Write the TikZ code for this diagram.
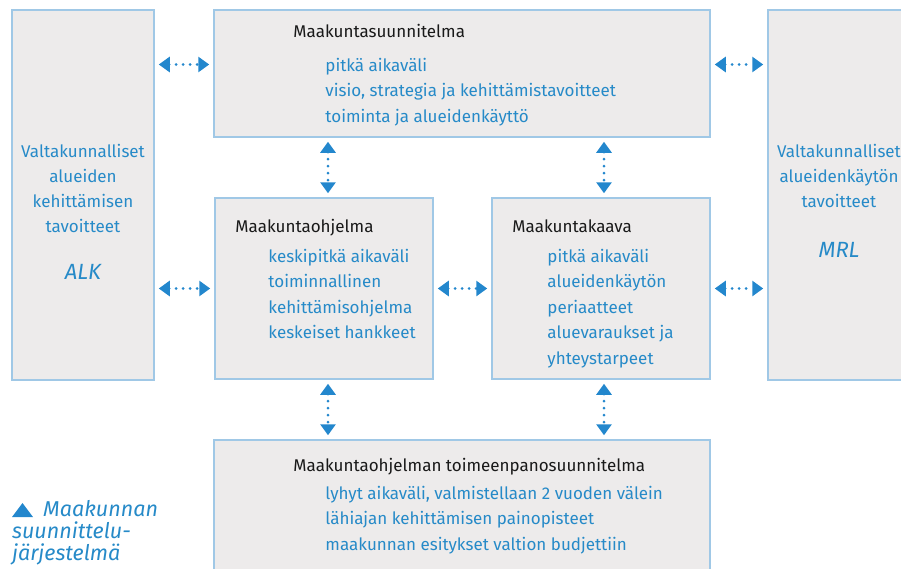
\documentclass[tikz,border=0pt]{standalone}
\usepackage{fontspec}
\setmainfont{Fira Sans}
\usepackage{tikz}
\usetikzlibrary{arrows.meta}
\usetikzlibrary{calc}
\usetikzlibrary{positioning}
\definecolor{boxfill}{RGB}{237,235,235}
\definecolor{boxline}{RGB}{160,200,230}
\definecolor{textblue}{RGB}{38,138,200}
\definecolor{linkblue}{RGB}{35,135,205}
\tikzstyle{panel} = [draw=boxline, line width=1.5pt, fill=boxfill, inner sep=0pt]
\tikzstyle{head} = [anchor=base west, inner sep=0pt, text=black!90, font=\fontsize{17}{25.5}\selectfont]
\tikzstyle{items} = [anchor=base west, inner sep=0pt, align=left, text=textblue, font=\fontsize{17}{25.5}\selectfont]
\tikzstyle{side} = [anchor=base, inner sep=0pt, align=center, text=textblue, font=\fontsize{17}{25}\selectfont]
\tikzstyle{abbr} = [anchor=base, inner sep=0pt, text=textblue, font=\itshape\fontsize{22}{24}\selectfont]
\tikzstyle{caption} = [anchor=base west, inner sep=0pt, align=left, text=textblue, font=\itshape\fontsize{21.5}{22}\selectfont]
\tikzstyle{link} = [linkblue, line width=3pt, line cap=round, dash pattern=on 0pt off 7pt, {Triangle[length=11pt,width=15pt]}-{Triangle[length=11pt,width=15pt]}, shorten <=4pt, shorten >=4pt]

\begin{document}
\begin{tikzpicture}[x=1pt,y=1pt]
\useasboundingbox (0,0) rectangle (901,-568);

\node[panel, minimum width=142pt, minimum height=370pt] (alk) at (83,-195) {};
\node[panel, minimum width=496pt, minimum height=127pt] (ms)  at (462,-73.5) {};
\node[panel, minimum width=142pt, minimum height=370pt] (mrl) at (839,-195) {};
\node[panel, minimum width=218pt, minimum height=181pt] (mo)  at (324,-288.5) {};
\node[panel, minimum width=218pt, minimum height=181pt] (mk)  at (601,-288.5) {};
\node[panel, minimum width=496pt, minimum height=132pt] (mt)  at (462,-506) {};

% box texts (lists sit on their last line)
\node[head]  (mshead) at ($(ms.north west)+(80,-28)$) {Maakuntasuunnitelma};
\node[items] (mslist) at ($(ms.north west)+(112,-113)$) {pitkä aikaväli\\visio, strategia ja kehittämistavoitteet\\toiminta ja alueidenkäyttö};
\node[head]  (mohead) at ($(mo.north west)+(21,-35)$) {Maakuntaohjelma};
\node[items] (molist) at ($(mo.north west)+(54,-141.5)$) {keskipitkä aikaväli\\toiminnallinen\\kehittämisohjelma\\keskeiset hankkeet};
\node[head]  (mkhead) at ($(mk.north west)+(21,-35)$) {Maakuntakaava};
\node[items] (mklist) at ($(mk.north west)+(56,-167)$) {pitkä aikaväli\\alueidenkäytön\\periaatteet\\aluevaraukset ja\\yhteystarpeet};
\node[head]  (mthead) at ($(mt.north west)+(80,-32)$) {Maakuntaohjelman toimeenpanosuunnitelma};
\node[items] (mtlist) at ($(mt.north west)+(112,-111)$) {lyhyt aikaväli, valmistellaan 2 vuoden välein\\lähiajan kehittämisen painopisteet\\maakunnan esitykset valtion budjettiin};

\node[side] (alktext) at ($(alk.north)+(0,-223)$) {Valtakunnalliset\\alueiden\\kehittämisen\\tavoitteet};
\node[abbr] (alkname) at ($(alk.north)+(0,-270)$) {ALK};
\node[side] (mrltext) at ($(mrl.north)+(0,-198)$) {Valtakunnalliset\\alueidenkäytön\\tavoitteet};
\node[abbr] (mrlname) at ($(mrl.north)+(0,-248)$) {MRL};

% arrows
\coordinate (msl) at ([yshift=9pt]ms.west);
\coordinate (msr) at ([yshift=9pt]ms.east);
\coordinate (mon) at ([xshift=4pt]mo.north);
\coordinate (mos) at ([xshift=4pt]mo.south);
\coordinate (mkn) at ([xshift=3pt]mk.north);
\coordinate (mks) at ([xshift=3pt]mk.south);
\draw[link] (alk.east |- msl) -- (msl);
\draw[link] (msr) -- (mrl.west |- msr);
\draw[link] (alk.east |- mo.west) -- (mo.west);
\draw[link] (mo.east) -- (mk.west);
\draw[link] (mk.east) -- (mrl.west |- mk.east);
\draw[link] (ms.south -| mon) -- (mon);
\draw[link] (ms.south -| mkn) -- (mkn);
\draw[link] (mos) -- (mt.north -| mos);
\draw[link] (mks) -- (mt.north -| mks);

% caption
\fill[linkblue] (12,-517) -- (33,-517) -- (22.5,-503) -- cycle;
\node[caption] (captext) at (12,-560) {\hspace{31pt}Maakunnan\\suunnittelu-\\järjestelmä};
\end{tikzpicture}
\end{document}
